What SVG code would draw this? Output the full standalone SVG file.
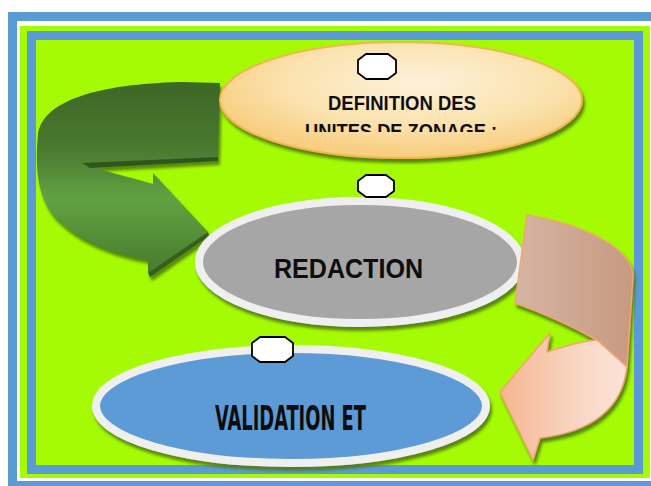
<svg xmlns="http://www.w3.org/2000/svg" width="651" height="486" viewBox="0 0 651 486">
<style>
.blue{fill:#5b9bd5}
.lime{fill:#a4fb04}
.oct{fill:#ffffff;stroke:#000000;stroke-width:1.8;stroke-linejoin:round}
.lbl{font-family:"Liberation Sans",Arial,sans-serif;font-weight:bold;fill:#0d0d0d;text-anchor:middle}
.cond{font-family:"DejaVu Sans Condensed","DejaVu Sans",sans-serif;font-weight:bold;fill:#0d0d0d;text-anchor:middle}
</style>
<defs>
<filter id="sh" x="-10%" y="-10%" width="120%" height="130%">
<feDropShadow dx="2" dy="4" stdDeviation="1.5" flood-color="#4f7a10" flood-opacity="0.9"/>
</filter>
<radialGradient id="peachEll" cx="0.55" cy="0.35" r="0.6">
<stop offset="0" stop-color="#fdf1da"/>
<stop offset="0.6" stop-color="#fbe3b0"/>
<stop offset="1" stop-color="#f8cf82"/>
</radialGradient>
<linearGradient id="gArrow" x1="0" y1="83" x2="0" y2="275" gradientUnits="userSpaceOnUse">
<stop offset="0" stop-color="#3d6726"/>
<stop offset="0.35" stop-color="#4a7a30"/>
<stop offset="0.6" stop-color="#62a243"/>
<stop offset="1" stop-color="#467a2c"/>
</linearGradient>
<linearGradient id="pTop" x1="515" y1="0" x2="633" y2="0" gradientUnits="userSpaceOnUse">
<stop offset="0" stop-color="#d5b4a4"/>
<stop offset="1" stop-color="#c89a80"/>
</linearGradient>
<linearGradient id="pLow" x1="500" y1="0" x2="627" y2="0" gradientUnits="userSpaceOnUse">
<stop offset="0" stop-color="#f4b690"/>
<stop offset="0.6" stop-color="#f9d6c3"/>
<stop offset="1" stop-color="#fbe4d8"/>
</linearGradient>
<clipPath id="clipTop"><rect x="200" y="40" width="400" height="92"/></clipPath>
</defs>

<g id="frame">
<rect class="blue" x="8" y="12" width="660" height="490"/>
<rect fill="#ffffff" x="17" y="21" width="640" height="460"/>
<rect class="lime" x="20" y="26" width="630" height="452"/>
<rect class="blue" x="27" y="31" width="616" height="443"/>
<rect class="lime" x="36" y="40" width="598" height="425"/>
</g>

<g id="connectors">
<g id="arrow-green" filter="url(#sh)">
<path fill="url(#gArrow)" d="M220,83 L180,82 C100,84 42,100 38,135 C34,175 40,205 60,222 C85,245 120,255 148,260 L148,273 L208,232 L153,173 L153,184 C125,176 100,170 82,163 L218,157 Z"/>
<path fill="#2f561d" d="M82,163 L218,157 L218,161 L90,168 Z"/>
<path fill="#35601f" d="M148,273 L208,232 L209,236 L150,277 Z"/>
</g>
</g>

<g id="node-definition" filter="url(#sh)">
<ellipse cx="401" cy="100" rx="181" ry="58" fill="url(#peachEll)" stroke="#f2b650" stroke-width="2"/>
</g>
<g id="node-definition-text">
<text class="lbl" x="402" y="110" font-size="20" textLength="148" lengthAdjust="spacingAndGlyphs">DEFINITION DES</text>
<text class="lbl" x="401" y="138" font-size="20" textLength="192" lengthAdjust="spacingAndGlyphs" clip-path="url(#clipTop)">UNITES DE ZONAGE :</text>
<path class="oct" d="M366,54 L388,54 L396,60 L396,73 L388,79 L366,79 L358,73 L358,60 Z"/>
</g>

<g id="node-redaction">
<ellipse cx="360" cy="262" rx="161" ry="61" fill="#a6a6a6" stroke="#efefef" stroke-width="8" filter="url(#sh)"/>
<text class="lbl" x="348.5" y="278" font-size="27" textLength="149" lengthAdjust="spacingAndGlyphs">REDACTION</text>
<path class="oct" d="M366,175 L386,175 L394,181 L394,191 L386,197 L366,197 L358,191 L358,181 Z"/>
</g>

<g id="node-validation">
<ellipse cx="291" cy="406" rx="195" ry="57" fill="#5b9bd5" stroke="#efefef" stroke-width="8" filter="url(#sh)"/>
<text class="cond" x="290.5" y="430" font-size="34" textLength="151" lengthAdjust="spacingAndGlyphs">VALIDATION ET</text>
<path class="oct" d="M260,337 L285,337 L293,343 L293,356 L285,362 L260,362 L252,356 L252,343 Z"/>
</g>

<g id="connectors-2">
<g id="arrow-peach" filter="url(#sh)">
<path fill="url(#pTop)" stroke="#f4a470" stroke-width="1.5" stroke-linejoin="round" d="M527,215 C585,225 633,248 633,277 L627,367 L597,340 C570,325 540,312 515,303 Z"/>
<path fill="url(#pLow)" stroke="#f4a470" stroke-width="1.5" stroke-linejoin="round" d="M547,352 C565,346 582,341 597,340 L627,367 C622,410 590,432 540,438 L533,460 L500,392 L550,333 Z"/>
</g>
</g>
</svg>
